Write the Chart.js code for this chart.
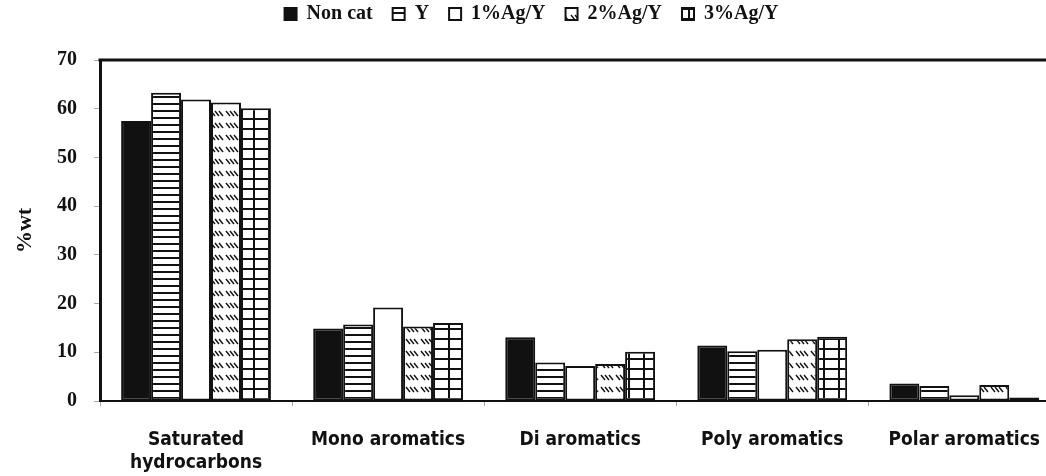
<!DOCTYPE html>
<html>
<head>
<meta charset="utf-8">
<script src="https://cdn.jsdelivr.net/npm/chart.js@4/dist/chart.umd.min.js"></script>
<style>
    html, body { margin: 0; padding: 0; background: #fff; overflow: hidden; }
    #wrap { width: 1063px; height: 476px; position: relative; }
</style>
</head>
<body>
<div id="wrap"><canvas id="chart"></canvas></div>
<script>
(function () {
    "use strict";

    // ======================================================================
    // Data
    //
    const categories = [
        ['Saturated', 'hydrocarbons'],
        'Mono aromatics',
        'Di aromatics',
        'Poly aromatics',
        'Polar aromatics'
    ];
    const seriesNames = ['Non cat', 'Y', '1%Ag/Y', '2%Ag/Y', '3%Ag/Y'];
    const nonCat = [57.5, 14.9, 13.1, 11.4, 3.6];
    const zeoY = [63.3, 15.7, 7.9, 10.2, 3.1];
    const ag1 = [61.9, 19.2, 7.2, 10.5, 1.2];
    const ag2 = [61.3, 15.3, 7.6, 12.7, 3.3];
    const ag3 = [60.1, 16.0, 10.1, 13.2, 0.7];
    const yTicks = [0, 10, 20, 30, 40, 50, 60, 70];

    // ======================================================================
    // Fill patterns
    //
    function tile(w, h, draw) {
        const c = document.createElement('canvas');
        c.width = w;
        c.height = h;
        const g = c.getContext('2d');
        g.fillStyle = '#fff';
        g.fillRect(0, 0, w, h);
        g.strokeStyle = '#111';
        g.fillStyle = '#111';
        draw(g);
        return document.createElement('canvas').getContext('2d').createPattern(c, 'repeat');
    }

    const fills = [
        '#111',
        tile(8, 7, g => g.fillRect(0, 5, 8, 2)),
        '#fff',
        tile(15, 12, g => {
            g.lineWidth = 1.4;
            [1, 5, 9].forEach(x => {
                g.beginPath();
                g.moveTo(x, 3);
                g.lineTo(x + 4, 8);
                g.stroke();
            });
        }),
        tile(15, 10, g => {
            g.fillRect(0, 8, 15, 2);
            g.fillRect(13, 0, 2, 10);
        })
    ];

    const seriesValues = [nonCat, zeoY, ag1, ag2, ag3];

    // ======================================================================
    // Plugins
    //
    const frameTop = {
        id: 'frameTop',
        afterDraw(chart) {
            const { ctx, chartArea } = chart;
            ctx.save();
            ctx.strokeStyle = '#111';
            ctx.lineWidth = 3;
            ctx.beginPath();
            ctx.moveTo(chartArea.left - 1.5, chartArea.top);
            ctx.lineTo(chartArea.right + 5, chartArea.top);
            ctx.stroke();
            ctx.restore();
        }
    };

    // ======================================================================
    // Chart
    //
    new Chart(document.getElementById('chart'), {
        type: 'bar',
        data: {
            labels: categories,
            datasets: seriesNames.map((name, i) => ({
                label: name,
                data: seriesValues[i],
                backgroundColor: fills[i],
                borderColor: '#111',
                borderWidth: 2,
                borderSkipped: false,
                categoryPercentage: 0.78,
                barPercentage: 1.0
            }))
        },
        options: {
            responsive: true,
            maintainAspectRatio: false,
            animation: false,
            layout: { padding: { left: 0, right: 0, top: -16, bottom: 0 } },
            plugins: {
                legend: {
                    position: 'top',
                    labels: {
                        boxWidth: 12,
                        boxHeight: 12,
                        padding: 20,
                        color: '#111',
                        font: { family: 'Liberation Serif', size: 20, weight: 'bold' }
                    }
                },
                title: {
                    display: true,
                    text: ' ',
                    weight: 500,
                    font: { size: 10 },
                    padding: { top: 7, bottom: 7 }
                },
                tooltip: { enabled: false }
            },
            scales: {
                x: {
                    grid: {
                        offset: true,
                        drawOnChartArea: false,
                        tickLength: 5,
                        color: '#aaa'
                    },
                    border: { color: '#111', width: 2 },
                    ticks: {
                        color: '#111',
                        padding: 23,
                        maxRotation: 0,
                        autoSkip: false,
                        font: { family: '"DejaVu Sans Condensed", sans-serif', size: 19, weight: 'bold' }
                    },
                    afterFit: s => { s.height = 75; }
                },
                y: {
                    min: 0,
                    max: 70,
                    afterBuildTicks: s => { s.ticks = yTicks.map(v => ({ value: v })); },
                    grid: {
                        drawOnChartArea: false,
                        tickLength: 6,
                        color: '#aaa'
                    },
                    border: { color: '#111', width: 3 },
                    ticks: {
                        color: '#111',
                        padding: 17,
                        font: { family: 'Liberation Serif', size: 20, weight: 'bold' }
                    },
                    title: {
                        display: true,
                        text: '%wt',
                        color: '#111',
                        padding: { top: 12, bottom: 0 },
                        font: { family: 'Liberation Serif', size: 22, weight: 'bold' }
                    },
                    afterFit: s => { s.width = 100; }
                }
            }
        },
        plugins: [frameTop]
    });
})();
</script>
</body>
</html>
